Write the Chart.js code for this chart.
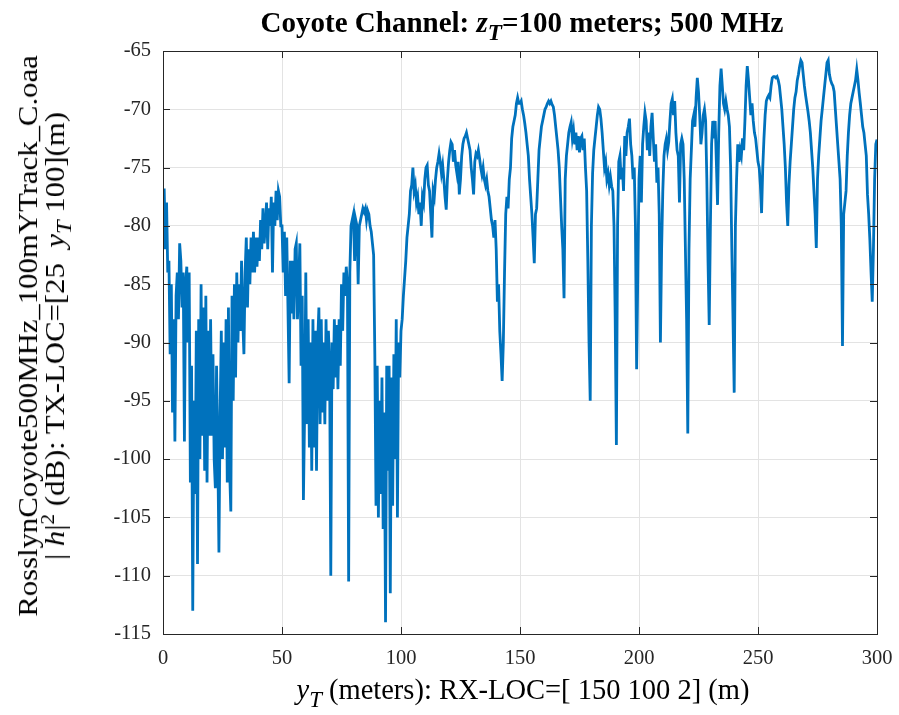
<!DOCTYPE html>
<html>
<head>
<meta charset="utf-8">
<script src="https://cdn.jsdelivr.net/npm/chart.js@4.4.1/dist/chart.umd.min.js"></script>
<style>
    body { margin: 0; background: #fff; }
    #wrap { position: relative; width: 899px; height: 715px; font-family: 'Liberation Serif', serif; color: #000; }
    #wrap canvas { position: absolute; left: 0; top: 0; }
    .lbl { position: absolute; white-space: nowrap; text-align: center; }
    .lbl sub { font-size: 0.8em; vertical-align: -0.35em; line-height: 0; }
    .lbl sup { font-size: 0.7em; vertical-align: 0.55em; line-height: 0; }
    #title { left: 163px; width: 718px; top: 6px; font-size: 29px; line-height: 32px; font-weight: bold; }
    #xlabel { left: 163px; width: 720px; top: 674px; font-size: 28.5px; line-height: 32px; }
    #ylabel { left: -278px; top: 309px; width: 640px; font-size: 26.5px; line-height: 27px; transform: rotate(-90deg) scaleX(1.16); }
</style>
</head>
<body>
<div id="wrap">
    <canvas id="gainChart" width="899" height="715"></canvas>
    <div id="title" class="lbl">Coyote Channel: <i>z</i><sub><i>T</i></sub>=100 meters; 500 MHz</div>
    <div id="xlabel" class="lbl"><i>y</i><sub><i>T</i></sub> (meters): RX-LOC=[ 150 100 2] (m)</div>
    <div id="ylabel" class="lbl">RosslynCoyote500MHz_100mYTrack_C.oaa<br>| <i>h</i>|<sup>2</sup> (dB): TX-LOC=[25&nbsp; <i>y</i><sub><i>T</i></sub> 100](m)</div>
</div>
<script>
// Receiver track, sampled every half metre
const stepMeters = 0.5;

// |h|^2 in dB, 0 - 49.5 m
const gainA = [
    -79, -76.8, -82, -78, -84, -83, -91, -85, -96, -88, -98.5, -86, -84, -88, -81.5, -83, -87, -84, -98.5, -85,
    -83.5, -90, -84, -102, -92, -113, -95, -103, -89, -109, -88, -100, -85, -98, -87, -101, -86, -102, -89, -98,
    -88, -98, -91, -100, -102.5, -92, -99, -108, -96, -89, -100, -90, -99, -88, -102, -87, -101, -104.5, -86, -95,
    -85, -93, -84, -90, -85, -89, -83, -88, -91, -84, -81, -87, -82, -85, -81, -84, -80.5, -84, -81, -83.5,
    -81, -83, -79.5, -82, -78.5, -81.5, -80, -78, -82, -78.5, -80, -77.5, -84, -78, -80, -77, -79.5, -77, -77.5, -80
];
// 50 - 99.5 m
const gainB = [
    -80, -84, -80.5, -86, -81, -87, -93.5, -83, -87.5, -83, -88, -82, -81.5, -88, -85, -81.5, -92, -86, -103.5, -96,
    -84, -97, -88, -99, -90, -101, -88, -99, -89, -101, -90, -87, -97, -88, -96, -90, -97, -88, -95, -89,
    -92, -110, -90, -94, -88, -93, -88.5, -94, -88, -92, -85, -89, -84, -86, -83.5, -85, -110.5, -84, -80, -79.5,
    -79, -83, -79.5, -80, -85, -80, -79.5, -79, -78.5, -78.8, -78.5, -79.5, -78.7, -79, -80, -80.5, -81.5, -82.5, -91, -104,
    -92, -105, -95, -103, -93, -106, -96, -114, -92, -101, -92, -111.5, -93, -104, -91, -100, -88, -105, -90, -93
];
// 100 - 149.5 m
const gainC = [
    -89, -88, -86, -84.5, -83, -81, -80, -79, -77, -76.5, -75, -77, -76.5, -78, -77.5, -79, -78, -80, -77.5, -78,
    -76, -75, -74.8, -76.5, -77, -79, -81, -77, -77.5, -76, -75, -74.5, -73.8, -74.5, -75.5, -74.8, -76, -77.5, -78.6, -76,
    -74.5, -73.5, -72.8, -73, -74.5, -73.5, -74.8, -75.5, -74.5, -77.3, -76, -74, -73, -72.5, -72.3, -72, -72.5, -73, -73.5, -75,
    -76, -77.3, -74.5, -73.8, -74, -73.5, -74.2, -75, -75.6, -75, -76, -76.5, -76, -77, -77.5, -78.5, -79.5, -80, -81, -79.5,
    -82, -86.5, -85, -89, -91, -93.3, -90, -84, -79, -77.5, -78.5, -76, -75, -72.5, -71.5, -71, -70.5, -69.5, -69, -69.5
];
// 150 - 199.5 m
const gainD = [
    -69.5, -69.3, -70, -70.5, -71.2, -72, -73, -74, -76, -77.5, -79, -81, -83.2, -79, -78.5, -76, -73.5, -72.5, -71.5, -71,
    -70.5, -70, -69.8, -69.5, -69.3, -69.5, -69.3, -69.6, -69.8, -70.5, -71.5, -72.5, -73.5, -75, -77.5, -80, -82, -86.2, -76, -74,
    -73, -72, -71.5, -71.1, -72.5, -71.8, -73, -72, -73.5, -72.3, -73.7, -72.5, -72.3, -73.5, -72.5, -75, -77, -83, -90, -95,
    -80, -75.5, -73.5, -72.5, -71.5, -70.5, -69.8, -70, -70.8, -72, -73.5, -75, -74.5, -76, -75.5, -76.5, -75.8, -76.6, -77, -80,
    -88, -98.8, -80, -74.5, -74, -76, -75, -77, -72.3, -74, -72, -71.5, -70.8, -73, -74, -76, -75, -80, -92.3, -84
];
// 200 - 249.5 m
const gainE = [
    -76, -74, -78, -73, -71.5, -70.3, -71, -73.5, -72, -74, -71.5, -70.3, -72.5, -74.5, -73, -76.3, -75, -79, -90, -82,
    -77, -74, -73, -72.5, -73.5, -72.8, -71, -69.5, -69.1, -70.5, -69.3, -72, -73.5, -74, -78, -73, -72.5, -73, -76, -82,
    -88, -97.8, -82, -76, -73.5, -71, -70.5, -71.5, -69, -67.3, -68.5, -70.5, -73, -72, -70.5, -70, -71, -76, -83, -88.5,
    -80, -73, -71, -72.5, -71, -74.5, -78.2, -72, -68, -66.5, -68, -69.5, -70, -69.3, -70, -70.5, -71.5, -75, -82, -88,
    -94.3, -80, -76, -73, -74.5, -73.5, -74, -72.5, -73.5, -71, -68, -66.3, -67.5, -69, -70.5, -69.5, -71, -72, -72.5, -73.5
];
// 250 - 300 m
const gainF = [
    -74.5, -75, -76.5, -78.9, -75, -72.5, -70.5, -69.3, -69, -68.8, -69, -68, -67.3, -67.2, -67.2, -67.3, -67.2, -67.5, -68, -69,
    -70, -71.5, -73, -75, -78, -80, -76.5, -74.5, -73, -71.5, -70, -69, -68.5, -67.5, -67, -66.3, -65.8, -66, -67, -68,
    -68.8, -69.5, -70.2, -71, -72, -73.5, -75, -77, -79, -81.9, -76, -74, -72.5, -71, -70, -69, -68, -67, -66, -65.8,
    -67, -67.5, -67.8, -68, -68.5, -70, -71.5, -73, -74.5, -76, -80, -90.3, -79, -78, -77, -74, -72, -70.5, -69.5, -69,
    -68.5, -68, -67.5, -66.6, -67.5, -68.6, -69.5, -70.5, -71.5, -72, -73, -74, -77.3, -79, -81.2, -84, -86.5, -82, -76, -73, -72.6
];

// Axis ranges and ticks
const xTicks = [0, 50, 100, 150, 200, 250, 300];
const yTicks = [-115, -110, -105, -100, -95, -90, -85, -80, -75, -70, -65];

const gain = [].concat(gainA, gainB, gainC, gainD, gainE, gainF);
const points = gain.map((g, i) => ({ x: i * stepMeters, y: g }));

const axisColor = '#262626';

// Box round the axes and MATLAB style inward ticks
const boxPlugin = {
    id: 'boxPlugin',
    afterDraw(chart) {
        const ctx = chart.ctx;
        const a = chart.chartArea;
        const xs = chart.scales.x;
        const ys = chart.scales.y;
        ctx.save();
        ctx.strokeStyle = axisColor;
        ctx.lineWidth = 1;
        ctx.beginPath();
        xTicks.forEach(v => {
            const px = Math.round(xs.getPixelForValue(v)) + 0.5;
            ctx.moveTo(px, a.bottom); ctx.lineTo(px, a.bottom - 7);
            ctx.moveTo(px, a.top); ctx.lineTo(px, a.top + 7);
        });
        yTicks.forEach(v => {
            const py = Math.round(ys.getPixelForValue(v)) + 0.5;
            ctx.moveTo(a.left, py); ctx.lineTo(a.left + 7, py);
            ctx.moveTo(a.right, py); ctx.lineTo(a.right - 7, py);
        });
        ctx.stroke();
        ctx.strokeRect(Math.round(a.left) + 0.5, Math.round(a.top) + 0.5,
            Math.round(a.right - a.left), Math.round(a.bottom - a.top));
        ctx.restore();
    }
};

new Chart(document.getElementById('gainChart'), {
    type: 'line',
    data: {
        datasets: [{
            data: points,
            borderColor: '#0072BD',
            borderWidth: 2.8,
            pointRadius: 0,
            tension: 0,
            fill: false
        }]
    },
    options: {
        responsive: false,
        animation: false,
        events: [],
        layout: { padding: { left: 0, top: 51, right: 22, bottom: 0 } },
        plugins: { legend: { display: false }, tooltip: { enabled: false } },
        scales: {
            x: {
                type: 'linear',
                min: 0,
                max: 300,
                afterFit: s => { s.height = 81; s.paddingLeft = 0; s.paddingRight = 0; },
                afterBuildTicks: s => { s.ticks = xTicks.map(v => ({ value: v })); },
                grid: { color: '#e3e3e3', drawTicks: false },
                border: { display: false },
                ticks: {
                    padding: 12,
                    color: axisColor,
                    maxRotation: 0,
                    font: { family: 'Liberation Serif', size: 20.5 }
                }
            },
            y: {
                type: 'linear',
                min: -115,
                max: -65,
                afterFit: s => { s.width = 163; s.paddingTop = 0; s.paddingBottom = 0; },
                afterBuildTicks: s => { s.ticks = yTicks.map(v => ({ value: v })); },
                grid: { color: '#e3e3e3', drawTicks: false },
                border: { display: false },
                ticks: {
                    padding: 12,
                    color: axisColor,
                    font: { family: 'Liberation Serif', size: 20.5 }
                }
            }
        }
    },
    plugins: [boxPlugin]
});
</script>
</body>
</html>
